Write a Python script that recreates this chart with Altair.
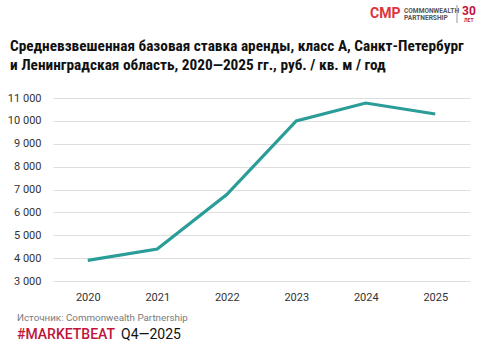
import altair as alt
import pandas as pd

years = ["2020", "2021", "2022", "2023", "2024", "2025"]
rent = [3900, 4400, 6780, 10000, 10780, 10300]
y_ticks = [3000, 4000, 5000, 6000, 7000, 8000, 9000, 10000, 11000]

title_lines = ["Средневзвешенная базовая ставка аренды, класс А, Санкт-Петербург",
               "и Ленинградская область, 2020—2025 гг., руб. / кв. м / год"]
source_text = "Источник: Commonwealth Partnership"
brand_text = "#MARKETBEAT"
period_text = "Q4—2025"

df = pd.DataFrame({"year": years, "rent": rent})

L, T = 53, 98  # plot origin on the page
W, H = 417, 183
FONT = "Roboto"

base = alt.Chart(df)

line = base.mark_line(color="#2a9d98", strokeWidth=3.2).encode(
    x=alt.X("year:O", sort=years, scale=alt.Scale(paddingOuter=0.5, paddingInner=0),
            axis=alt.Axis(title=None, labelAngle=0, domain=False, ticks=False,
                          labelPadding=10, labelFontSize=11, labelColor="#333333",
                          labelFont=FONT)),
    y=alt.Y("rent:Q", scale=alt.Scale(domain=[3000, 11000], nice=False, zero=False),
            axis=alt.Axis(title=None, values=y_ticks, domain=False, ticks=False,
                          labelPadding=12, labelFontSize=11, labelColor="#333333",
                          labelFont=FONT, gridColor="#dedede", gridWidth=1,
                          labelExpr="replace(format(datum.value, ','), ',', ' ')")),
)


def txt(text, x, y, size, color="#000000", weight="normal", align="left", font=FONT):
    return alt.Chart(pd.DataFrame({"t": [text]})).mark_text(
        align=align, baseline="middle", fontSize=size, color=color,
        fontWeight=weight, font=font
    ).encode(text="t:N", x=alt.value(x - L), y=alt.value(y - T))


TFONT = "Roboto Condensed, Liberation Sans Narrow, Roboto"
layers = [
    line,
    txt(title_lines[0], 10, 46, 15.3, "#111111", "bold", font=TFONT),
    txt(title_lines[1], 10, 65, 15.3, "#111111", "bold", font=TFONT),
    txt(source_text, 17, 318, 9.8, "#7a7a7a"),
    txt(brand_text, 17, 335, 14, "#c0143c", 500),
    txt(period_text, 121, 335, 14, "#111111"),
    # logo
    txt("CMP", 370, 14, 14, "#e0323c", "bold"),
    txt("COMMONWEALTH", 404, 11, 6.6, "#555555", "bold"),
    txt("PARTNERSHIP", 404, 18, 6.6, "#555555", "bold"),
    txt("30", 462, 11, 12, "#c0143c", "bold"),
    txt("ЛЕТ", 464, 20, 5, "#c0143c", "bold"),
    alt.Chart(pd.DataFrame({"a": [0]})).mark_rule(color="#999999").encode(
        x=alt.value(457 - L), y=alt.value(5 - T), y2=alt.value(23 - T)),
]

chart = alt.layer(*layers).properties(
    width=W, height=H,
    autosize=alt.AutoSizeParams(type="none"),
    padding={"left": L, "top": T, "right": 483 - L - W, "bottom": 352 - T - H},
    background="white",
).configure_view(stroke=None)

chart.save("out.html", embed_options={"renderer": "svg", "actions": False})
